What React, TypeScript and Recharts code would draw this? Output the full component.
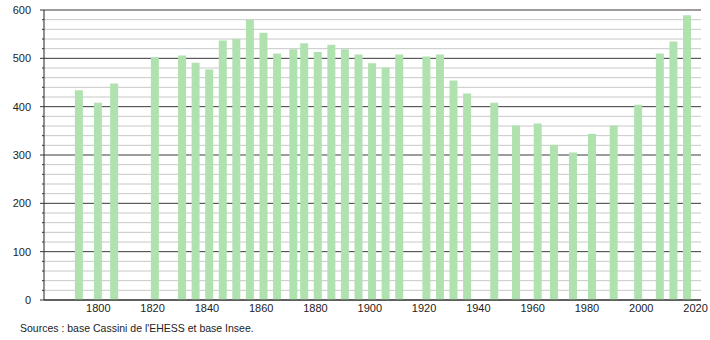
import React from "react";
import { BarChart, Bar, XAxis, YAxis, CartesianGrid } from "recharts";

// census years and population counts
const years = [
  1793, 1800, 1806, 1821, 1831, 1836, 1841, 1846, 1851, 1856, 1861, 1866,
  1872, 1876, 1881, 1886, 1891, 1896, 1901, 1906, 1911, 1921, 1926, 1931,
  1936, 1946, 1954, 1962, 1968, 1975, 1982, 1990, 1999, 2007, 2012, 2017,
];
const population = [
  434, 408, 448, 502, 506, 491, 477, 537, 540, 580, 553, 510,
  519, 531, 513, 528, 519, 508, 490, 481, 508, 504, 508, 454,
  427, 408, 361, 365, 321, 305, 344, 361, 404, 510, 535, 589,
];
const xTicks = [1800, 1820, 1840, 1860, 1880, 1900, 1920, 1940, 1960, 1980, 2000, 2020];
const majorTicks = [0, 100, 200, 300, 400, 500, 600];
const minorTicks = [
  20, 40, 60, 80, 120, 140, 160, 180, 220, 240, 260, 280, 320, 340, 360, 380,
  420, 440, 460, 480, 520, 540, 560, 580,
];

const FONT = "'Liberation Sans', Arial, sans-serif";

const rows = years.map((y, i) => ({ year: y, pop: population[i] }));
const allYTicks = [...majorTicks, ...minorTicks].sort((a, b) => a - b);

function YTick(props: any) {
  const { x, y, payload } = props;
  const major = payload.value % 100 === 0;
  return (
    <g>
      <line x1={x - (major ? 4 : 2)} x2={x} y1={y} y2={y} stroke="#333" />
      {major && (
        <text x={x - 13} y={y} dy="0.35em" textAnchor="end" fontSize={11} fill="#222" fontFamily={FONT}>
          {payload.value}
        </text>
      )}
    </g>
  );
}

export default function App() {
  return (
    <div style={{ position: "absolute", left: 0, top: 0, width: 710, height: 340, background: "#fff", fontFamily: FONT }}>
      <BarChart width={710} height={340} data={rows} margin={{ top: 10, right: 9, left: 0, bottom: 20 }}>
        <CartesianGrid vertical={false} horizontalValues={minorTicks} stroke="#c8c8c8" strokeWidth={1} />
        <CartesianGrid vertical={false} horizontalValues={majorTicks} stroke="#3a3a3a" strokeWidth={1} />
        <XAxis
          dataKey="year"
          type="number"
          domain={[1780, 2022]}
          ticks={xTicks}
          height={20}
          tickLine={false}
          tickSize={0}
          tickMargin={4}
          axisLine={{ stroke: "#222" }}
          tick={{ fontSize: 11, fill: "#222", fontFamily: FONT }}
          interval={0}
        />
        <YAxis
          type="number"
          domain={[0, 600]}
          ticks={allYTicks}
          width={44}
          tickLine={false}
          tickSize={0}
          tickMargin={0}
          interval={0}
          axisLine={{ stroke: "#222" }}
          tick={<YTick />}
        />
        <Bar dataKey="pop" fill="#b0e2b0" barSize={8} isAnimationActive={false} />
      </BarChart>
      <div style={{ position: "absolute", left: 20, top: 322, fontSize: 10.5, color: "#222", fontFamily: FONT }}>
        Sources : base Cassini de l'EHESS et base Insee.
      </div>
    </div>
  );
}
